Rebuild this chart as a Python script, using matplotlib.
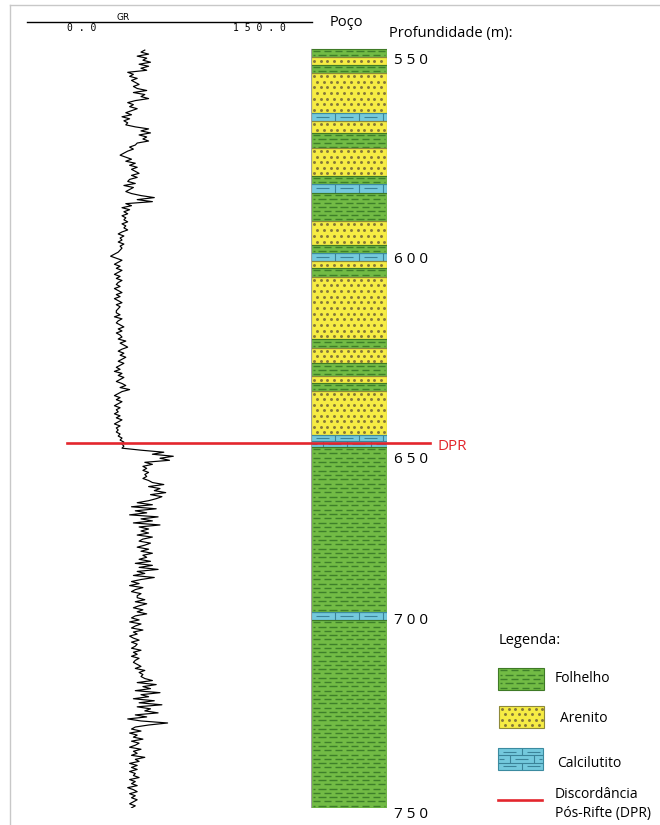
import numpy as np
import matplotlib.pyplot as plt
from matplotlib.patches import Rectangle
from matplotlib.collections import LineCollection

plt.rcParams['font.family'] = ['Open Sans', 'DejaVu Sans']

# layer boundaries (m), top to base, and lithology of each interval
# F = folhelho, A = arenito, C = calcilutito
boundaries = [547.6, 549.7, 551.9, 554.1, 564.5, 566.7, 569.8, 574.0, 581.3,
              583.4, 585.7, 593.2, 599.6, 601.6, 603.8, 605.8, 608.0, 624.6,
              627.0, 631.0, 634.4, 636.3, 638.3, 650.0, 653.1, 696.9, 699.1,
              748.9]
lithology = ['F', 'A', 'F', 'A', 'C', 'A', 'F', 'A', 'F', 'C', 'F', 'A', 'F',
             'C', 'A', 'F', 'A', 'F', 'A', 'F', 'A', 'F', 'A', 'C', 'F', 'C',
             'F']

# gamma ray log (API), regularly sampled between gr_top and gr_base
gr_top, gr_base = 547.9, 748.9
gr_values = [
    62, 60, 64, 58, 63, 61, 65, 59, 64, 60, 63,
    53, 56, 54, 58, 55, 57, 59, 56,
    58, 63, 56, 62, 60, 64,
    57, 53, 56, 54, 58, 55,
    52, 55, 50, 54, 51, 53, 52,
    57, 64, 60, 65, 59, 63, 61, 64, 58,
    57, 54, 56, 53, 51, 49, 52,
    55, 52, 57, 54, 58, 55,
    57, 59, 55, 58, 54,
    53, 57, 51, 56, 54, 52, 55,
    60, 67, 58, 66,
    52, 55, 50, 54, 51, 53, 50,
    52, 51, 53, 50, 52, 51, 53,
    50, 48, 51, 49, 50, 48, 51, 49, 50, 49,
    48, 46, 44, 47, 50, 48, 46, 49, 47, 50, 48, 46, 49, 47, 50,
    48, 47, 49, 46, 48, 50, 47, 49, 46, 48, 50, 47, 49, 48, 47,
    47, 49, 46, 50, 48, 47, 49, 51, 48, 50, 47, 49,
    50, 48, 52, 49, 51, 53, 50, 48, 51, 49, 52, 50, 48, 51, 49,
    47, 49, 46, 50, 48, 51, 49, 47, 50, 52, 49, 54, 50,
    48, 46, 49, 47, 50, 48, 46, 49, 47, 48, 46, 49, 47, 50, 48, 46, 49, 47,
    48, 47, 49, 48,
    50, 49, 51, 50, 51, 50,
    60, 72, 66, 77, 70, 75,
    62, 66, 61,
    63, 61, 64, 62, 63, 61, 64,
    66, 72, 64, 70, 67, 73, 65, 71, 68, 64,
    58, 66, 55, 68, 57, 63, 54, 69, 60, 66, 56, 70, 59, 64,
    60, 64, 58, 66, 61, 59, 65, 62, 58, 64, 60, 66, 61, 63, 59, 65,
    57, 66, 59, 69, 58, 62, 56, 67, 60,
    55, 59, 54, 61, 57, 55, 60, 58,
    58, 62, 57, 63, 59, 56, 61, 58, 63, 57,
    55, 59, 54, 60, 57, 55, 61, 56, 58, 54,
    56, 59, 55, 58, 57, 55, 60, 56, 58, 55, 59, 57, 56,
    58, 60, 57, 62, 59, 61, 60,
    62, 66, 58, 68, 61, 65, 57, 70, 60, 64, 56, 67, 59, 71, 58, 65, 62, 69,
    57, 63,
    53, 60, 74, 64,
    57, 55, 60, 54, 58, 56, 61, 55, 59, 57, 54, 60, 56, 58, 55, 62, 57, 59,
    54, 58,
    55, 58, 54, 57, 56, 59, 54, 57, 55, 58, 53, 56, 58, 54, 57, 55, 58, 56,
    54, 57, 55,
]
gr_min, gr_max = 0.0, 150.0

dpr_depth = 652.1
depth_ticks = [550, 603, 656, 698.5, 750]
depth_labels = ['5 5 0', '6 0 0', '6 5 0', '7 0 0', '7 5 0']

legend_labels = ['Folhelho', 'Arenito', 'Calcilutito',
                 'Discordância', 'Pós-Rifte (DPR)']

FILL = {'F': '#72bb45', 'A': '#f6ec44', 'C': '#74c9dd'}
EDGE = {'F': '#3f7a26', 'A': '#8f8a3a', 'C': '#3b8ba0'}
RED = '#e3262d'

W, H = 660, 825
PX_PER_M = 3.77
y_top = 550 + (48 - 58) / PX_PER_M
y_bot = 550 + (808 - 58) / PX_PER_M

fig = plt.figure(figsize=(6.6, 8.25), dpi=100)


def px_axes(x0, y0, x1, y1, z):
    ax = fig.add_axes([x0 / W, 1 - y1 / H, (x1 - x0) / W, (y1 - y0) / H],
                      zorder=z)
    ax.axis('off')
    return ax


def draw_layer(ax, x0, x1, y0, y1, kind, sy):
    # sy = data units per pixel along y (x is always in pixels)
    ax.add_patch(Rectangle((x0, y0), x1 - x0, y1 - y0, facecolor=FILL[kind],
                           edgecolor='none', zorder=1))
    h_px = (y1 - y0) / sy
    segs = []
    if kind == 'F':
        n = max(1, int(round(h_px / 4.3)))
        for i in range(n):
            y = y0 + (i + 0.5) * (y1 - y0) / n
            x = x0 + 1.5 - (5.5 if i % 2 else 0)
            while x < x1 - 1.5:
                a, b = max(x, x0 + 1.5), min(x + 7.5, x1 - 1.5)
                if b > a:
                    segs.append([(a, y), (b, y)])
                x += 11
        ax.add_collection(LineCollection(segs, colors='#3e7f2a', lw=1.0,
                                         zorder=2))
    elif kind == 'A':
        n = max(1, int(round(h_px / 5.7)))
        xs, ys = [], []
        for i in range(n):
            y = y0 + (i + 0.5) * (y1 - y0) / n
            x = x0 + 3 + (3.3 if i % 2 else 0)
            while x < x1 - 1.5:
                xs.append(x)
                ys.append(y)
                x += 6.7
        ax.scatter(xs, ys, s=4.5, marker='o', color='#86793a', lw=0,
                   zorder=2)
    else:
        n = max(1, int(round(h_px / 7)))
        rh = (y1 - y0) / n
        for i in range(n):
            r0 = y0 + i * rh
            ym = r0 + rh / 2
            if i > 0:
                segs.append([(x0, r0), (x1, r0)])
            x = x0 - (12 if i % 2 else 0)
            while x < x1:
                if x + 24 < x1:
                    segs.append([(x + 24, r0), (x + 24, r0 + rh)])
                a, b = max(x + 5, x0 + 1), min(x + 18, x1 - 1)
                if b > a:
                    segs.append([(a, ym), (b, ym)])
                x += 24
        ax.add_collection(LineCollection(segs, colors='#3b8399', lw=0.8,
                                         zorder=2))
    ax.add_patch(Rectangle((x0, y0), x1 - x0, y1 - y0, facecolor='none',
                           edgecolor=EDGE[kind], lw=0.8, zorder=3))


# GR track
ax_gr = px_axes(27, 48, 312, 808, 4)
ax_gr.set_xlim(gr_min, gr_max)
ax_gr.set_ylim(y_bot, y_top)
gr_depth = np.linspace(gr_top, gr_base, len(gr_values))
ax_gr.plot(gr_values, gr_depth, color='black', lw=0.85)
ax_gr.plot([21.0, 212.1], [dpr_depth, dpr_depth], color=RED, lw=1.9,
           clip_on=False, zorder=5)
ax_gr.text(215.8, dpr_depth + 1.0, 'DPR', color=RED, fontsize=11,
           ha='left', va='center', clip_on=False)

# lithology column
ax_col = px_axes(311, 48, 387, 808, 3)
ax_col.set_xlim(0, 76)
ax_col.set_ylim(y_bot, y_top)
for top, base, kind in zip(boundaries[:-1], boundaries[1:], lithology):
    draw_layer(ax_col, 0, 76, top, base, kind, 1 / PX_PER_M)
ax_col.plot([0, 0], [boundaries[0], boundaries[-1]], color='#a0a0a0', lw=0.8,
            zorder=4)
ax_col.plot([76, 76], [boundaries[0], boundaries[-1]], color='#a0a0a0',
            lw=0.8, zorder=4)
for d, lab in zip(depth_ticks, depth_labels):
    ax_col.text(83, d + 1.5, lab, fontsize=11, ha='left', va='baseline',
                clip_on=False)

# overlay in pixel coordinates: header, legend, frame
ov = fig.add_axes([0, 0, 1, 1], zorder=1)
ov.set_xlim(0, W)
ov.set_ylim(H, 0)
ov.axis('off')
ov.plot([10, W], [5, 5], color='#c8c8c8', lw=1)
ov.plot([10, 10], [5, H], color='#c8c8c8', lw=1)
ov.plot([27, 312], [22.3, 22.3], color='black', lw=1)
ov.text(123, 19.5, 'GR', fontsize=6.5, family='DejaVu Sans', ha='center',
        va='baseline')
ov.text(67, 31, '0 . 0', fontsize=7, family='DejaVu Sans Mono', ha='left',
        va='baseline')
ov.text(233, 31, '1 5 0 . 0', fontsize=7, family='DejaVu Sans Mono',
        ha='left', va='baseline')
ov.text(330, 26, 'Poço', fontsize=10.5, ha='left', va='baseline')
ov.text(389, 36.5, 'Profundidade (m):', fontsize=10.5, ha='left',
        va='baseline')

ov.text(499, 644, 'Legenda:', fontsize=10.5, ha='left', va='baseline')
patch_boxes = [(498, 544, 668, 690), (499, 544, 706, 728),
               (498, 543, 748, 770)]
label_pos = [(555, 682), (560, 721.5), (557, 767)]
for (x0, x1, y0, y1), kind, lab, (tx, ty) in zip(patch_boxes, ['F', 'A', 'C'],
                                                  legend_labels, label_pos):
    draw_layer(ov, x0, x1, y0, y1, kind, 1.0)
    ov.text(tx, ty, lab, fontsize=10, ha='left', va='baseline')
ov.plot([498, 542], [800, 800], color=RED, lw=1.9)
ov.text(555, 797.5, legend_labels[3], fontsize=10, ha='left', va='baseline')
ov.text(555, 816.5, legend_labels[4], fontsize=10, ha='left', va='baseline')

fig.savefig('out.png', dpi=100)
